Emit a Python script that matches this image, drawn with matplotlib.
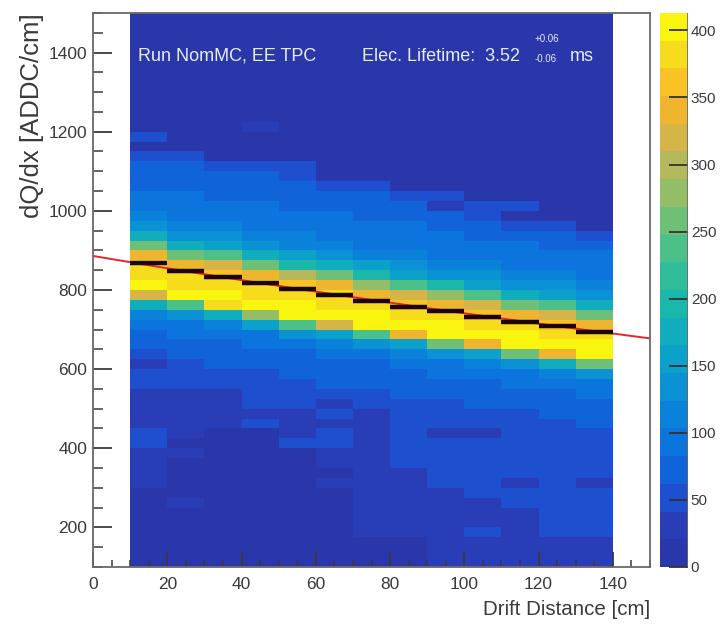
import numpy as np
import matplotlib
matplotlib.use("Agg")
import matplotlib.pyplot as plt
from matplotlib.colors import LinearSegmentedColormap, Normalize
from matplotlib.ticker import MultipleLocator

# ---------------- data ----------------
x_edges = np.arange(10, 141, 10)        # drift distance bins [cm]
y_edges = np.arange(100, 1501, 25)      # dQ/dx bins [ADC/cm]

# counts per drift-distance column, dQ/dx bins from 100 upward (56 bins each)
col_010_020 = [6, 8, 8, 10, 10, 12, 12, 15, 35, 22, 25, 25, 45, 45, 28, 25,
               40, 30, 50, 50, 28, 58, 68, 77, 88, 109, 170, 320, 408, 390, 372, 335,
               250, 166, 130, 110, 98, 88, 80, 72, 65, 58, 12, 50, 8, 8, 7, 7,
               6, 6, 6, 5, 5, 5, 5, 5]
col_020_030 = [6, 6, 8, 8, 10, 10, 40, 15, 15, 18, 18, 40, 20, 22, 22, 25,
               40, 28, 45, 45, 58, 67, 74, 83, 97, 141, 240, 405, 390, 375, 340, 265,
               184, 143, 118, 101, 92, 84, 76, 68, 62, 55, 10, 8, 8, 7, 7, 6,
               6, 6, 5, 5, 5, 5, 5, 5]
col_030_040 = [5, 6, 6, 8, 8, 8, 10, 10, 12, 12, 15, 15, 16, 18, 22, 35,
               40, 35, 48, 50, 65, 71, 79, 88, 111, 173, 380, 408, 388, 365, 320, 235,
               156, 126, 106, 94, 89, 82, 75, 68, 58, 10, 8, 8, 7, 7, 6, 6,
               6, 5, 5, 5, 5, 5, 5, 5]
col_040_050 = [5, 6, 6, 7, 8, 8, 10, 10, 12, 14, 15, 16, 18, 20, 42, 40,
               45, 50, 50, 55, 68, 75, 85, 100, 149, 280, 408, 390, 372, 338, 260, 176,
               137, 114, 97, 91, 86, 80, 72, 62, 42, 8, 8, 8, 40, 7, 7, 6,
               6, 6, 5, 5, 5, 5, 5, 5]
col_050_060 = [5, 6, 6, 7, 8, 8, 10, 10, 12, 14, 16, 20, 45, 38, 40, 40,
               50, 50, 52, 66, 72, 81, 94, 129, 230, 395, 408, 380, 355, 295, 197, 149,
               122, 104, 93, 88, 82, 75, 66, 55, 45, 8, 8, 7, 7, 7, 6, 6,
               6, 5, 5, 5, 5, 5, 5, 5]
col_060_070 = [6, 6, 7, 8, 8, 10, 10, 15, 35, 20, 22, 22, 45, 45, 38, 45,
               28, 50, 63, 68, 76, 87, 107, 159, 320, 408, 390, 372, 335, 250, 168, 132,
               111, 96, 90, 85, 78, 68, 55, 8, 8, 7, 7, 7, 6, 6, 6, 6,
               5, 5, 5, 5, 5, 5, 5, 5]
col_070_080 = [8, 10, 12, 40, 25, 22, 25, 25, 25, 28, 40, 40, 25, 30, 40, 25,
               50, 60, 66, 73, 82, 95, 135, 240, 400, 408, 378, 345, 270, 190, 147, 120,
               102, 92, 87, 80, 72, 62, 45, 8, 8, 7, 7, 7, 6, 6, 6, 6,
               5, 5, 5, 5, 5, 5, 5, 5]
col_080_090 = [12, 15, 15, 22, 25, 25, 28, 30, 38, 40, 45, 45, 48, 50, 50, 52,
               58, 63, 69, 78, 89, 112, 164, 340, 408, 388, 368, 330, 240, 162, 128, 109,
               95, 90, 84, 76, 66, 52, 8, 8, 7, 7, 7, 6, 6, 6, 6, 6,
               5, 5, 5, 5, 5, 5, 5, 5]
col_090_100 = [22, 25, 28, 35, 38, 40, 40, 40, 45, 48, 50, 50, 50, 35, 55, 55,
               60, 66, 74, 83, 97, 140, 250, 398, 408, 378, 342, 270, 186, 144, 119, 101,
               92, 86, 78, 68, 30, 50, 8, 8, 7, 7, 7, 6, 6, 6, 6, 6,
               5, 5, 5, 5, 5, 5, 5, 5]
col_100_110 = [28, 30, 30, 50, 40, 40, 40, 45, 48, 50, 50, 50, 50, 35, 55, 58,
               64, 70, 78, 89, 113, 164, 350, 408, 388, 368, 325, 235, 159, 127, 108, 95,
               89, 82, 70, 55, 45, 8, 8, 8, 7, 7, 7, 6, 6, 6, 6, 6,
               5, 5, 5, 5, 5, 5, 5, 5]
col_110_120 = [30, 32, 35, 35, 35, 38, 50, 50, 30, 50, 50, 50, 55, 55, 55, 60,
               67, 74, 84, 97, 140, 250, 398, 408, 376, 342, 268, 183, 142, 117, 100, 91,
               84, 72, 58, 20, 50, 8, 8, 7, 7, 7, 6, 6, 6, 6, 6, 5,
               5, 5, 5, 5, 5, 5, 5, 5]
col_120_130 = [30, 30, 32, 42, 45, 45, 45, 45, 45, 60, 52, 55, 55, 55, 58, 64,
               70, 78, 90, 113, 167, 350, 406, 388, 368, 325, 235, 160, 128, 108, 95, 89,
               80, 68, 50, 8, 8, 8, 7, 7, 7, 6, 6, 6, 6, 6, 6, 5,
               5, 5, 5, 5, 5, 5, 5, 5]
col_130_140 = [35, 35, 35, 42, 45, 45, 45, 48, 30, 52, 55, 55, 55, 58, 62, 67,
               74, 84, 97, 140, 250, 396, 405, 374, 340, 268, 183, 142, 117, 100, 91, 84,
               72, 52, 8, 8, 8, 7, 7, 7, 6, 6, 6, 6, 6, 6, 5, 5,
               5, 5, 5, 5, 5, 5, 5, 5]

# most probable dQ/dx per column (black points)
point_x = [15, 25, 35, 45, 55, 65, 75, 85, 95, 105, 115, 125, 135]
point_mpv = [867, 847, 834, 817, 802, 787, 771, 758, 746, 733, 720, 708, 695]

# exponential fit (red line)
fit_amplitude = 886.0          # ADC/cm at x = 0
lifetime_ms = 3.52
drift_speed_cm_per_us = 0.159
fit_range = (0, 150)

z_max = 413
cbar_ticks = [0, 50, 100, 150, 200, 250, 300, 350, 400]
x_ticks = [0, 20, 40, 60, 80, 100, 120, 140]
y_ticks = [200, 400, 600, 800, 1000, 1200, 1400]

# ---------------- style ----------------
plt.rcParams['font.family'] = ['Liberation Sans', 'DejaVu Sans']

bird_stops = [
    (0, '#2a37aa'), (20, '#2a3db4'), (40, '#1f4ccc'), (60, '#125fd9'),
    (90, '#0a76de'), (120, '#0a8ad8'), (150, '#0aa0cc'), (180, '#11b2b8'),
    (210, '#26bca0'), (240, '#4cc088'), (270, '#7fc070'), (300, '#b0ba5c'),
    (325, '#d4b548'), (350, '#f2b52c'), (375, '#fbc821'), (395, '#f6e01a'),
    (413, '#f9f50f')]
cmap = LinearSegmentedColormap.from_list(
    'bird', [(v / z_max, c) for v, c in bird_stops], N=20)
norm = Normalize(0, z_max)

fig = plt.figure(figsize=(7.2, 6.27), dpi=100)
ax = fig.add_axes([0.1292, 0.0957, 0.7736, 0.8836])
cax = fig.add_axes([0.9167, 0.0957, 0.0389, 0.8836])

counts = np.array([col_010_020, col_020_030, col_030_040, col_040_050, col_050_060,
                   col_060_070, col_070_080, col_080_090, col_090_100, col_100_110,
                   col_110_120, col_120_130, col_130_140])
mesh = ax.pcolormesh(x_edges, y_edges, counts.T, cmap=cmap, norm=norm,
                     shading='flat', zorder=1)

xf = np.linspace(fit_range[0], fit_range[1], 300)
decay_len = drift_speed_cm_per_us * lifetime_ms * 1000.0
ax.plot(xf, fit_amplitude * np.exp(-xf / decay_len), color='#e8242c', lw=1.4, zorder=3)
ax.errorbar(point_x, point_mpv, xerr=5, fmt='none', ecolor='#1c0505',
            elinewidth=3.2, capsize=0, zorder=4)

ax.set_xlim(0, 150)
ax.set_ylim(100, 1500)
ax.set_xticks(x_ticks)
ax.set_yticks(y_ticks)
ax.xaxis.set_minor_locator(MultipleLocator(5))
ax.yaxis.set_minor_locator(MultipleLocator(50))
ax.set_axisbelow(False)
ax.tick_params(axis='both', which='both', direction='in', colors='#3a3a3a',
               labelcolor='#3a3a3a', top=False, right=False)
ax.tick_params(axis='y', which='major', length=14, width=1.3, labelsize=12.5, pad=4)
ax.tick_params(axis='y', which='minor', length=7, width=1.1)
ax.tick_params(axis='x', which='major', length=11, width=1.3, labelsize=12.5, pad=7)
ax.tick_params(axis='x', which='minor', length=5, width=1.1)
for s in ax.spines.values():
    s.set_color('#6a6a6a')
    s.set_linewidth(1.3)
    s.set_zorder(6)

ax.set_xlabel('Drift Distance [cm]', fontsize=14.8, color='#3a3a3a', loc='right')
ax.xaxis.set_label_coords(1.0, -0.06)
ax.set_ylabel('dQ/dx [ADDC/cm]', fontsize=18.5, color='#3a3a3a', loc='top')
ax.yaxis.set_label_coords(-0.088, 1.0)

txt_col = '#e6ecf6'
ax.text(12.0, 1379, 'Run NomMC, EE TPC', fontsize=13, color=txt_col, va='baseline', zorder=7)
ax.text(72.4, 1379, 'Elec. Lifetime:  3.52', fontsize=13, color=txt_col, va='baseline', zorder=7)
ax.text(119.0, 1433, '+0.06', fontsize=7, color=txt_col, va='center', zorder=7)
ax.text(119.0, 1383, '-0.06', fontsize=7, color=txt_col, va='center', zorder=7)
ax.text(128.5, 1379, 'ms', fontsize=13, color=txt_col, va='baseline', zorder=7)

cb = fig.colorbar(mesh, cax=cax)
cb.set_ticks(cbar_ticks)
cb.outline.set_visible(False)
cax.axvline(1.0, color='#6a6a6a', lw=1.2)
cax.tick_params(direction='in', length=14, width=1.3, colors='#333333',
                labelcolor='#3a3a3a', labelsize=11, pad=2)

fig.savefig('out.png', dpi=100)
